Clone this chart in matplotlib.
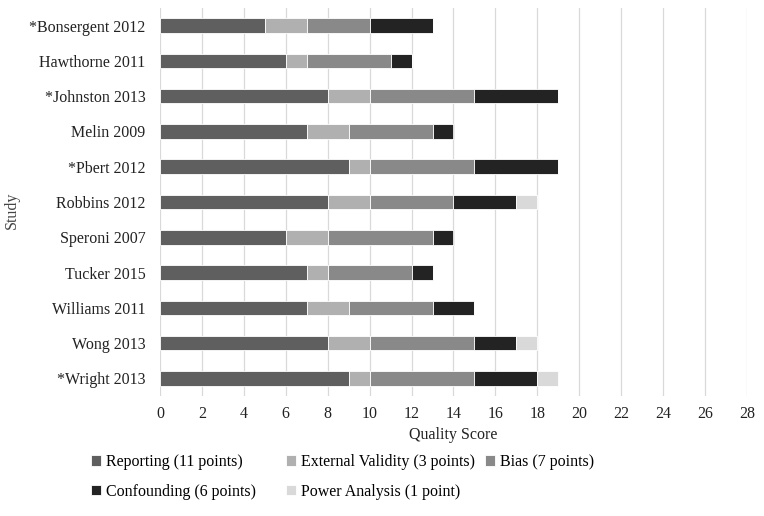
import numpy as np
import matplotlib
matplotlib.use("Agg")
import matplotlib.pyplot as plt

plt.rcParams['font.family'] = ['Liberation Serif', 'DejaVu Serif']

studies = ['*Bonsergent 2012', 'Hawthorne 2011', '*Johnston 2013', 'Melin 2009',
           '*Pbert 2012', 'Robbins 2012', 'Speroni 2007', 'Tucker 2015',
           'Williams 2011', 'Wong 2013', '*Wright 2013']
reporting = [5, 6, 8, 7, 9, 8, 6, 7, 7, 8, 9]
external_validity = [2, 1, 2, 2, 1, 2, 2, 1, 2, 2, 1]
bias = [3, 4, 5, 4, 5, 4, 5, 4, 4, 5, 5]
confounding = [3, 1, 4, 1, 4, 3, 1, 1, 2, 2, 3]
power = [0, 0, 0, 0, 0, 1, 0, 0, 0, 1, 1]

series = [
    ('Reporting (11 points)', reporting, '#5f5f5f'),
    ('External Validity (3 points)', external_validity, '#b0b0b0'),
    ('Bias (7 points)', bias, '#898989'),
    ('Confounding (6 points)', confounding, '#232323'),
    ('Power Analysis (1 point)', power, '#d9d9d9'),
]

fig = plt.figure(figsize=(7.64, 5.16), dpi=100)
ax = fig.add_axes([160 / 764, 1 - 396 / 516, (747 - 160) / 764, (396 - 8) / 516])

y = np.arange(len(studies))
left = np.zeros(len(studies))
handles = {}
for name, vals, col in series:
    b = ax.barh(y, vals, left=left, height=0.41, color=col, label=name,
                edgecolor='white', linewidth=0.6, zorder=3)
    handles[name] = b
    left = left + np.array(vals)

ax.set_ylim(len(studies) - 0.5, -0.5)
ax.set_yticks(y)
ax.set_yticklabels(studies, fontsize=11.5, color='#222222')
ax.set_xlim(0, 28)
ax.set_xticks(range(0, 29, 2))
ax.tick_params(axis='x', labelsize=11.5, colors='#222222', length=0, pad=7)
ax.tick_params(axis='y', length=0, pad=10.5)
ax.grid(axis='x', color='#d9d9d9', linewidth=0.9, zorder=0)
for s in ax.spines.values():
    s.set_visible(False)

ax.set_xlabel('Quality Score', fontsize=11.5, color='#222222', labelpad=4)
fig.text(12 / 764, 1 - 210 / 516, 'Study', rotation=90, fontsize=11.5,
         color='#444444', va='center', ha='center')

# legend laid out in fixed-width columns, like the original
columns = [(['Reporting (11 points)', 'Confounding (6 points)'], 88),
           (['External Validity (3 points)', 'Power Analysis (1 point)'], 283),
           (['Bias (7 points)'], 482)]
for names, xpos in columns:
    leg = fig.legend([handles[n] for n in names], names, frameon=False,
                     loc='upper left', bbox_to_anchor=(xpos / 764, 1 - 451 / 516),
                     fontsize=11.5, handlelength=0.6, handleheight=0.6,
                     handletextpad=0.3, labelspacing=0.85, borderaxespad=0,
                     borderpad=0.2)

fig.savefig('out.png', dpi=100)
